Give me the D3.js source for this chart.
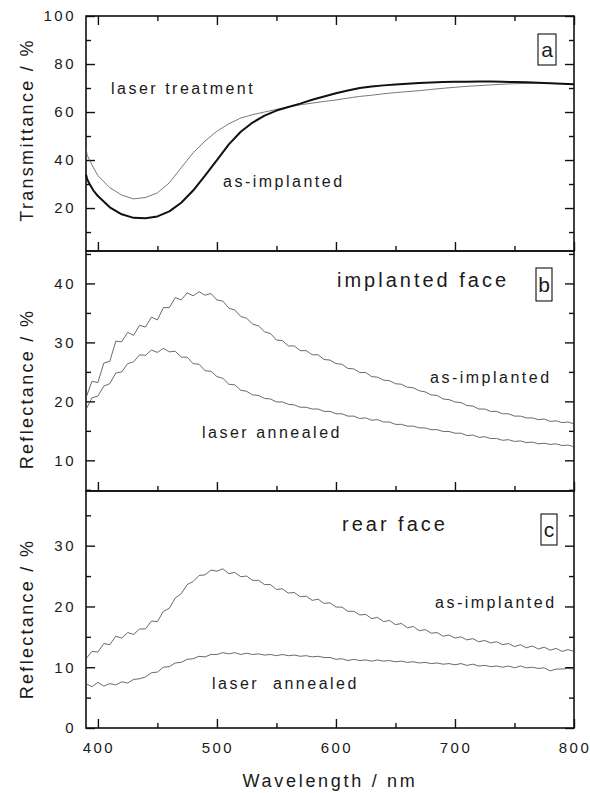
<!DOCTYPE html>
<html>
<head>
<meta charset="utf-8">
<script src="https://cdn.jsdelivr.net/npm/d3@7"></script>
<style>
body { margin: 0; background: #fff; }
svg text { font-family: "Liberation Sans", Arial, sans-serif; fill: #1a1a1a; }
</style>
</head>
<body>
<svg id="chart" width="590" height="793"></svg>
<script>
// panel a: transmittance
var wlA = [390, 391, 393, 396, 400, 410, 420, 430, 440, 450, 460, 470, 480, 490, 500, 510, 520, 530, 540, 550,
  560, 570, 580, 590, 600, 610, 620, 630, 640, 650, 660, 670, 680, 690, 700, 710, 720, 730, 740, 750,
  760, 770, 780, 790, 800];
var aAsImpl = [34, 32, 30, 27.5, 25, 20.3, 17.4, 15.9, 15.7, 16.5, 18.6, 22.2, 27.3, 33.5, 40, 46.5, 51.8, 55.6, 58.5, 60.6,
  62.1, 63.5, 65.1, 66.5, 67.8, 69, 70, 70.6, 71.1, 71.5, 71.8, 72.1, 72.3, 72.5, 72.6, 72.6, 72.7, 72.7, 72.6, 72.5,
  72.4, 72.2, 72.0, 71.8, 71.6];
var aLaser = [45, 42, 40, 37, 33.5, 28.5, 25.4, 23.8, 24.4, 26.3, 30.5, 36.8, 43, 47.9, 52, 55.1, 57.5, 58.9, 60, 61.1,
  62.1, 63, 63.7, 64.4, 65, 65.8, 66.5, 67, 67.6, 68.1, 68.5, 68.9, 69.4, 69.9, 70.3, 70.7, 71, 71.3, 71.6, 71.8,
  71.9, 72, 72, 71.8, 71.6];

// panels b and c: reflectance, sampled every 5 nm
var wlR = [390, 395, 400, 405, 410, 415, 420, 425, 430, 435, 440, 445, 450, 455, 460, 465, 470, 475, 480, 485,
  490, 495, 500, 505, 510, 515, 520, 525, 530, 535, 540, 545, 550, 555, 560, 565, 570, 575, 580, 585,
  590, 595, 600, 605, 610, 615, 620, 625, 630, 635, 640, 645, 650, 655, 660, 665, 670, 675, 680, 685,
  690, 695, 700, 705, 710, 715, 720, 725, 730, 735, 740, 745, 750, 755, 760, 765, 770, 775, 780, 785,
  790, 795, 800];
var bAsImpl = [20.6, 23.4, 23.2, 26.5, 26.8, 30.2, 30.1, 31.7, 31.2, 32.9, 32.6, 34.3, 33.8, 35.9, 35.9, 37.6, 37.2, 38.4, 37.9, 38.6,
  38.0, 38.3, 37.2, 37.0, 35.8, 35.5, 34.4, 34.1, 33.1, 32.8, 31.8, 31.5, 30.4, 30.3, 29.4, 29.4, 28.6, 28.6, 27.9, 27.9,
  27.1, 27.0, 26.4, 26.3, 25.6, 25.5, 24.9, 24.9, 24.2, 24.1, 23.6, 23.5, 23.0, 22.9, 22.4, 22.3, 21.8, 21.6, 21.1, 21.0,
  20.4, 20.3, 19.9, 19.8, 19.3, 19.2, 18.7, 18.7, 18.3, 18.3, 17.9, 17.9, 17.5, 17.5, 17.2, 17.2, 16.9, 17.0, 16.6, 16.7,
  16.4, 16.5, 16.2];
var bLaser = [18.6, 20.6, 20.9, 22.6, 23.0, 24.8, 25.0, 26.4, 26.7, 27.9, 27.8, 28.7, 28.3, 29.0, 28.4, 28.5, 27.5, 27.5, 26.4, 26.3,
  25.2, 25.1, 24.2, 23.9, 22.9, 22.8, 21.9, 21.7, 21.1, 21.0, 20.5, 20.4, 19.9, 19.9, 19.5, 19.4, 19.0, 19.0, 18.7, 18.7,
  18.3, 18.3, 17.9, 17.9, 17.5, 17.5, 17.1, 17.2, 16.8, 16.9, 16.5, 16.5, 16.1, 16.1, 15.8, 15.8, 15.5, 15.5, 15.2, 15.2,
  14.9, 14.9, 14.6, 14.6, 14.2, 14.3, 13.9, 14.0, 13.7, 13.7, 13.4, 13.5, 13.2, 13.3, 13.0, 13.1, 12.8, 12.9, 12.7, 12.8,
  12.5, 12.6, 12.3];
var cAsImpl = [11.4, 12.6, 12.5, 13.9, 13.7, 15.1, 14.8, 15.7, 15.4, 16.3, 16.3, 17.6, 17.5, 19.2, 19.7, 21.4, 22.1, 23.6, 24.1, 25.1,
  25.2, 26.0, 25.8, 26.2, 25.4, 25.6, 24.9, 25.0, 24.3, 24.3, 23.6, 23.6, 22.8, 22.9, 22.2, 22.3, 21.6, 21.7, 21.0, 21.2,
  20.5, 20.6, 19.9, 19.9, 19.2, 19.2, 18.6, 18.7, 18.0, 18.2, 17.5, 17.7, 17.0, 17.2, 16.5, 16.7, 16.0, 16.2, 15.6, 15.7,
  15.1, 15.3, 14.8, 15.0, 14.5, 14.7, 14.2, 14.4, 14.0, 14.2, 13.7, 13.9, 13.4, 13.7, 13.2, 13.5, 13.0, 13.3, 12.8, 13.1,
  12.6, 12.9, 12.6];
var cLaser = [7.3, 6.8, 7.5, 6.9, 7.3, 7.1, 7.6, 7.4, 8.0, 8.1, 8.4, 9.1, 9.2, 10.0, 10.1, 10.7, 10.8, 11.3, 11.4, 11.8,
  11.7, 12.1, 12.1, 12.4, 12.2, 12.4, 12.1, 12.3, 12.1, 12.2, 12.0, 12.1, 11.9, 12.1, 11.9, 12.0, 11.8, 11.9, 11.7, 11.8,
  11.6, 11.6, 11.3, 11.4, 11.1, 11.3, 11.1, 11.2, 11.0, 11.2, 11.0, 11.1, 10.9, 11.0, 10.8, 10.9, 10.7, 10.8, 10.6, 10.7,
  10.5, 10.6, 10.4, 10.6, 10.3, 10.5, 10.2, 10.3, 10.1, 10.2, 10.0, 10.2, 9.9, 10.2, 9.9, 10.0, 9.8, 9.9, 9.4, 9.7,
  9.7, 9.8, 9.7];

// ticks
var xMajor = [400, 500, 600, 700, 800];
var xMinor = [450, 550, 650, 750];
var aMajor = [20, 40, 60, 80, 100];
var aMinor = [10, 30, 50, 70, 90];
var bMajor = [10, 20, 30, 40];
var bMinor = [5, 15, 25, 35, 45];
var cMajor = [0, 10, 20, 30];
var cMinor = [5, 15, 25, 35];

var left = 86, right = 574;
var svg = d3.select('#chart');
var x = d3.scaleLinear().domain([390, 800]).range([left, right]);
var font = '"Liberation Sans", Arial, sans-serif';

function ticks(g, axis, values, size) {
  g.call(axis.tickValues(values).tickSize(size).tickFormat(''));
  g.select('.domain').remove();
  g.selectAll('line').attr('stroke', '#111').attr('stroke-width', 1.4);
}

function drawPanel(top, bottom, domain, major, minor, topTicks) {
  var y = d3.scaleLinear().domain(domain).range([bottom, top]);
  var g = svg.append('g');

  // left, labelled
  var gl = g.append('g').attr('transform', 'translate(' + left + ',0)');
  gl.call(d3.axisLeft(y).tickValues(major).tickSize(-9).tickPadding(10).tickFormat(d3.format('d')));
  gl.select('.domain').remove();
  gl.selectAll('line').attr('stroke', '#111').attr('stroke-width', 1.4);
  gl.selectAll('text').attr('font-size', 15).attr('font-family', font).attr('letter-spacing', 2.5).attr('fill', '#1a1a1a');
  ticks(g.append('g').attr('transform', 'translate(' + left + ',0)'), d3.axisLeft(y), minor, -5);

  // right
  ticks(g.append('g').attr('transform', 'translate(' + right + ',0)'), d3.axisRight(y), major, -9);
  ticks(g.append('g').attr('transform', 'translate(' + right + ',0)'), d3.axisRight(y), minor, -5);

  // bottom
  ticks(g.append('g').attr('transform', 'translate(0,' + bottom + ')'), d3.axisBottom(x), xMajor, -9);
  ticks(g.append('g').attr('transform', 'translate(0,' + bottom + ')'), d3.axisBottom(x), xMinor, -5);
  if (topTicks) {
    ticks(g.append('g').attr('transform', 'translate(0,' + top + ')'), d3.axisTop(x), xMajor, -9);
    ticks(g.append('g').attr('transform', 'translate(0,' + top + ')'), d3.axisTop(x), xMinor, -5);
  }

  g.append('rect')
    .attr('x', left).attr('y', top)
    .attr('width', right - left).attr('height', bottom - top)
    .attr('fill', 'none').attr('stroke', '#111').attr('stroke-width', 1.6);
  return y;
}

function drawLine(y, wl, vals, width, color) {
  var line = d3.line().x(d => x(d[0])).y(d => y(d[1]));
  svg.append('path')
    .datum(d3.zip(wl, vals))
    .attr('d', line)
    .attr('fill', 'none')
    .attr('stroke', color)
    .attr('stroke-width', width)
    .attr('stroke-linejoin', 'round');
}

function label(txt, px, py, size, spacing) {
  return svg.append('text')
    .attr('x', px).attr('y', py)
    .attr('font-size', size)
    .attr('letter-spacing', spacing)
    .style('white-space', 'pre')
    .text(txt);
}

function boxLabel(txt, bx, by, bw, bh) {
  svg.append('rect').attr('x', bx).attr('y', by).attr('width', bw).attr('height', bh)
    .attr('fill', '#fff').attr('stroke', '#111').attr('stroke-width', 1.1);
  svg.append('text').attr('x', bx + bw / 2).attr('y', by + bh / 2 + 7)
    .attr('text-anchor', 'middle').attr('font-size', 21).text(txt);
}

// panel a
var yA = drawPanel(16, 251, [2.1, 100], aMajor, aMinor, true);
drawLine(yA, wlA, aLaser, 0.8, '#555');
drawLine(yA, wlA, aAsImpl, 2, '#111');
label('laser treatment', 111, 94, 16, 2.5);
label('as-implanted', 223, 187, 16, 2.5);
boxLabel('a', 538, 34, 18, 31);

// panel b
var yB = drawPanel(251, 491, [4.8, 45.5], bMajor, bMinor, false);
drawLine(yB, wlR, bAsImpl, 0.8, '#444');
drawLine(yB, wlR, bLaser, 0.8, '#444');
label('implanted face', 337, 287, 20, 3);
label('as-implanted', 430, 383, 16, 2.5);
label('laser annealed', 202, 438, 16, 2.5);
boxLabel('b', 536, 268, 16, 33);

// panel c
var yC = drawPanel(491, 728, [0, 39], cMajor, cMinor, false);
drawLine(yC, wlR, cAsImpl, 0.8, '#444');
drawLine(yC, wlR, cLaser, 0.8, '#444');
label('rear face', 342, 531, 20, 3);
label('as-implanted', 435, 608, 16, 2.5);
label('laser  annealed', 212, 689, 16, 2.5);
boxLabel('c', 541, 514, 16, 31);

// x tick labels
svg.append('g').selectAll('text')
  .data(xMajor)
  .join('text')
  .attr('x', d => x(d) + 1)
  .attr('y', 753)
  .attr('text-anchor', 'middle')
  .attr('font-size', 15)
  .attr('letter-spacing', 2.5)
  .text(d => d);

// axis titles
svg.append('text').attr('x', 330).attr('y', 787).attr('text-anchor', 'middle')
  .attr('font-size', 18).attr('letter-spacing', 2.7).text('Wavelength / nm');

var yTitles = [['Transmittance / %', 130], ['Reflectance / %', 389], ['Reflectance / %', 619]];
yTitles.forEach(function (t) {
  svg.append('text')
    .attr('transform', 'translate(33,' + t[1] + ') rotate(-90)')
    .attr('text-anchor', 'middle')
    .attr('font-size', 18)
    .attr('letter-spacing', 2.3)
    .text(t[0]);
});
</script>
</body>
</html>
